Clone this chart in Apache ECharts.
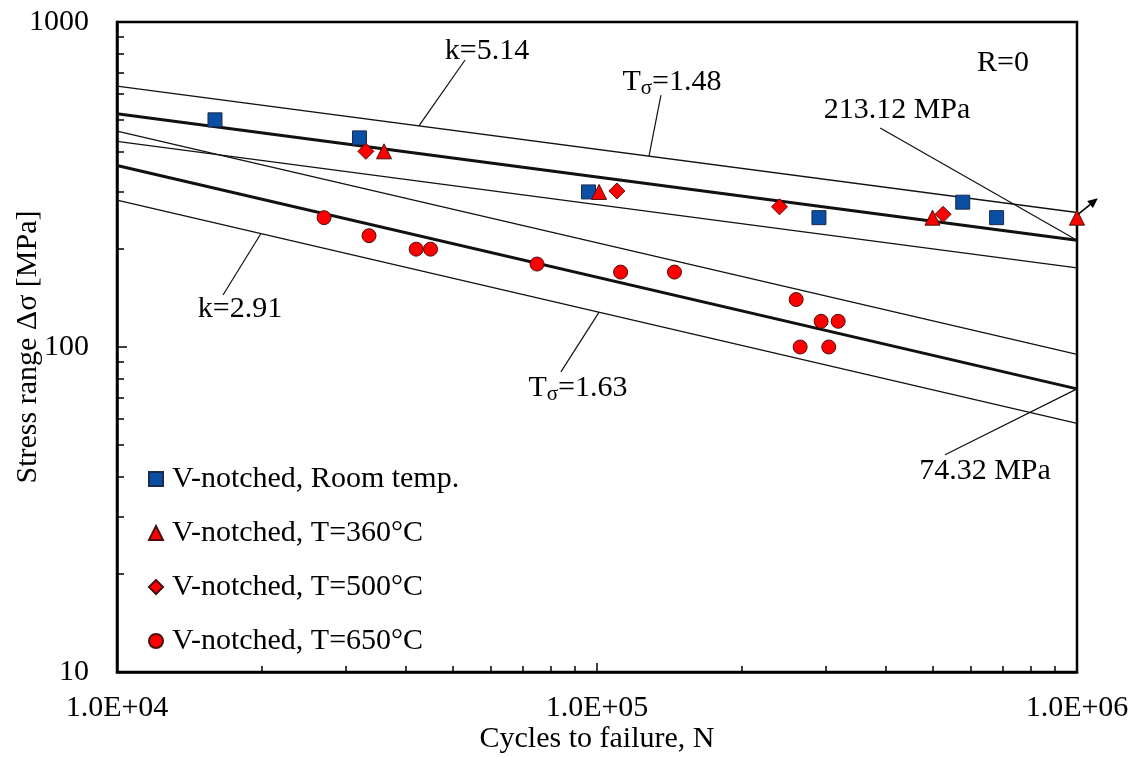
<!DOCTYPE html>
<html lang="en">
<head>
<meta charset="UTF-8">
<title>S-N curves, V-notched specimens</title>
<script src="https://cdn.jsdelivr.net/npm/echarts@6.0.0/dist/echarts.min.js"></script>
<style>html, body { margin: 0; padding: 0; background: #fff; }</style>
</head>
<body>
<div id="main" style="width:1140px;height:758px;"></div>
<script>
// test results: cycles to failure and stress range [MPa]
const roomN = [16000, 32000, 96000, 290000, 578000, 680000];
const roomS = [500, 440, 300, 250, 279, 250];
const t360N = [36000, 101000, 500000, 1000000];
const t360S = [400, 300, 250, 250];
const t500N = [33000, 110000, 240000, 526000];
const t500S = [400, 302, 270, 256];
const t650N = [27000, 33500, 42000, 45000, 75000, 112000, 145000, 260000, 293000, 318000, 265000, 304000];
const t650S = [250, 220, 200, 200, 180, 170, 170, 140, 120, 120, 100, 100];

// fitted S-N lines (mean + scatter band) at N = 1e4 and N = 1e6
const fitN = [1e4, 1e6];
const fitRoom = [522, 213.12];
const bandRoomUp = [635, 259.3];
const bandRoomLo = [429, 175.2];
const fit650 = [361.7, 74.32];
const band650Up = [461.8, 94.9];
const band650Lo = [283.3, 58.2];

// runout arrow on the last 360°C specimen (from, to)
const runoutArrow = [1.005e6, 256, 1105000, 287];

// annotation texts and their leader lines (data coordinates)
const noteText = ['k=5.14', '{a|T}{b|σ}{a|=1.48}', '213.12 MPa', 'R=0', 'k=2.91', '{a|T}{b|σ}{a|=1.63}', '74.32 MPa'];
const notePos = [[59000, 815], [143300, 653], [421700, 536], [701000, 748], [18040, 130.9], [91200, 74.8], [643000, 41.5]];
const leaders = [
    [[42560, 479], [53100, 764]],
    [[128300, 386], [135900, 596]],
    [[389000, 472], [1e6, 213.12]],
    [[19950, 223.4], [16630, 144.5]],
    [[101000, 128], [84100, 83.8]],
    [[1e6, 74.32], [531000, 46.6]]
];

// minor tick positions of the log axes
const xMinor = [];
const yMinor = [];
[1e4, 1e5].forEach(d => { for (let i = 2; i < 10; i++) xMinor.push(i * d); });
[10, 100].forEach(d => { for (let i = 2; i < 10; i++) yMinor.push(i * d); });

const FONT = 'Liberation Serif';
const FS = 30;
const zip = (a, b) => a.map((v, i) => [v, b[i]]);

function expLabel(v) {
    const e = Math.round(Math.log10(v));
    return '1.0E+' + (e < 10 ? '0' : '') + e;
}

function fitLine(vals, width) {
    return {
        type: 'line', data: zip(fitN, vals), symbol: 'none', silent: true, z: 2,
        lineStyle: { color: '#111', width: width }
    };
}

const txt = { fontFamily: FONT, fontSize: FS, color: '#000' };
const rich = {
    a: { fontFamily: FONT, fontSize: FS, fill: '#000', lineHeight: 34 },
    b: { fontFamily: FONT, fontSize: 21, fill: '#000', lineHeight: 14, verticalAlign: 'bottom' }
};

const series = [
    fitLine(fitRoom, 3), fitLine(bandRoomUp, 1.3), fitLine(bandRoomLo, 1.3),
    fitLine(fit650, 3), fitLine(band650Up, 1.3), fitLine(band650Lo, 1.3)
];
leaders.forEach(l => series.push({
    type: 'line', data: l, symbol: 'none', silent: true, z: 2,
    lineStyle: { color: '#111', width: 1.2 }
}));
series.push({
    name: 'V-notched, Room temp.', type: 'scatter', data: zip(roomN, roomS), z: 5,
    symbol: 'rect', symbolSize: 14,
    itemStyle: { color: '#0b4fa5', borderColor: '#1b2b4a', borderWidth: 1, opacity: 1 }
});
series.push({
    name: 'V-notched, T=360°C', type: 'scatter', data: zip(t360N, t360S), z: 5,
    symbol: 'triangle', symbolSize: 15,
    itemStyle: { color: '#ff0000', borderColor: '#4a1010', borderWidth: 1, opacity: 1 }
});
series.push({
    name: 'V-notched, T=500°C', type: 'scatter', data: zip(t500N, t500S), z: 5,
    symbol: 'diamond', symbolSize: 16,
    itemStyle: { color: '#ff0000', borderColor: '#4a1010', borderWidth: 1, opacity: 1 }
});
series.push({
    name: 'V-notched, T=650°C', type: 'scatter', data: zip(t650N, t650S), z: 5,
    symbol: 'circle', symbolSize: 14,
    itemStyle: { color: '#ff0000', borderColor: '#4a1010', borderWidth: 1, opacity: 1 }
});
// runout arrow, drawn outside the plot frame
series.push({
    type: 'custom', silent: true, z: 6, clip: false,
    data: [runoutArrow],
    renderItem: function (params, api) {
        const a = api.coord([api.value(0), api.value(1)]);
        const b = api.coord([api.value(2), api.value(3)]);
        const ang = Math.atan2(b[1] - a[1], b[0] - a[0]);
        const L = 10, W = 4.5;
        const bx = b[0] - L * Math.cos(ang), by = b[1] - L * Math.sin(ang);
        const nx = -Math.sin(ang) * W, ny = Math.cos(ang) * W;
        return {
            type: 'group',
            children: [{
                type: 'line',
                shape: { x1: a[0], y1: a[1], x2: bx, y2: by },
                style: { stroke: '#000', lineWidth: 1.6 }
            }, {
                type: 'polygon',
                shape: { points: [[b[0], b[1]], [bx + nx, by + ny], [bx - nx, by - ny]] },
                style: { fill: '#000' }
            }]
        };
    }
});
// annotation texts, snapped to whole pixels so they stay crisp
series.push({
    type: 'custom', silent: true, z: 7, clip: false,
    data: notePos.map((p, i) => [p[0], p[1], i]),
    renderItem: function (params, api) {
        const p = api.coord([api.value(0), api.value(1)]);
        return {
            type: 'text',
            x: Math.round(p[0]), y: Math.round(p[1]),
            style: {
                text: noteText[api.value(2)], rich: rich,
                font: FS + 'px ' + FONT, fill: '#000',
                align: 'center', verticalAlign: 'middle'
            }
        };
    }
});

const axisLine = { show: true, onZero: false, lineStyle: { color: '#000', width: 2.5 } };

const option = {
    animation: false,
    backgroundColor: '#fff',
    grid: {
        left: 117, right: 63, top: 22, bottom: 86, show: true,
        borderColor: '#000', borderWidth: 2.5, outerBoundsMode: 'none'
    },
    legend: {
        data: ['V-notched, Room temp.', 'V-notched, T=360°C', 'V-notched, T=500°C', 'V-notched, T=650°C'],
        orient: 'vertical', left: 148, top: 464, padding: 0,
        itemWidth: 14, itemHeight: 14, itemGap: 24, selectedMode: false,
        textStyle: Object.assign({ lineHeight: 30, padding: [0, 0, 0, 4] }, txt)
    },
    xAxis: [{
        type: 'log', logBase: 10, min: 1e4, max: 1e6,
        axisLine: axisLine,
        axisTick: { show: true, inside: true, length: 9, lineStyle: { color: '#000', width: 1.5 } },
        splitLine: { show: false },
        axisLabel: Object.assign({ formatter: expLabel, margin: 21 }, txt),
        name: 'Cycles to failure, N', nameLocation: 'middle', nameGap: 52, nameMoveOverlap: false,
        nameTextStyle: txt
    }, {
        type: 'log', logBase: 10, min: 1e4, max: 1e6, position: 'bottom',
        axisLine: { show: false }, axisLabel: { show: false }, splitLine: { show: false },
        axisTick: { show: true, inside: true, length: 6, customValues: xMinor, lineStyle: { color: '#000', width: 1.5 } }
    }],
    yAxis: [{
        type: 'log', logBase: 10, min: 10, max: 1000,
        axisLine: axisLine,
        axisTick: { show: true, inside: true, length: 10, lineStyle: { color: '#000', width: 1.5 } },
        splitLine: { show: false },
        axisLabel: Object.assign({ margin: 28, formatter: v => String(v) }, txt),
        name: 'Stress range Δσ [MPa]', nameLocation: 'middle', nameGap: 74, nameMoveOverlap: false,
        nameTextStyle: txt
    }, {
        type: 'log', logBase: 10, min: 10, max: 1000, position: 'left',
        axisLine: { show: false }, axisLabel: { show: false }, splitLine: { show: false },
        axisTick: { show: true, inside: true, length: 7, customValues: yMinor, lineStyle: { color: '#000', width: 1.5 } }
    }],
    series: series
};

const chart = echarts.init(document.getElementById('main'));
chart.setOption(option);
</script>
</body>
</html>
